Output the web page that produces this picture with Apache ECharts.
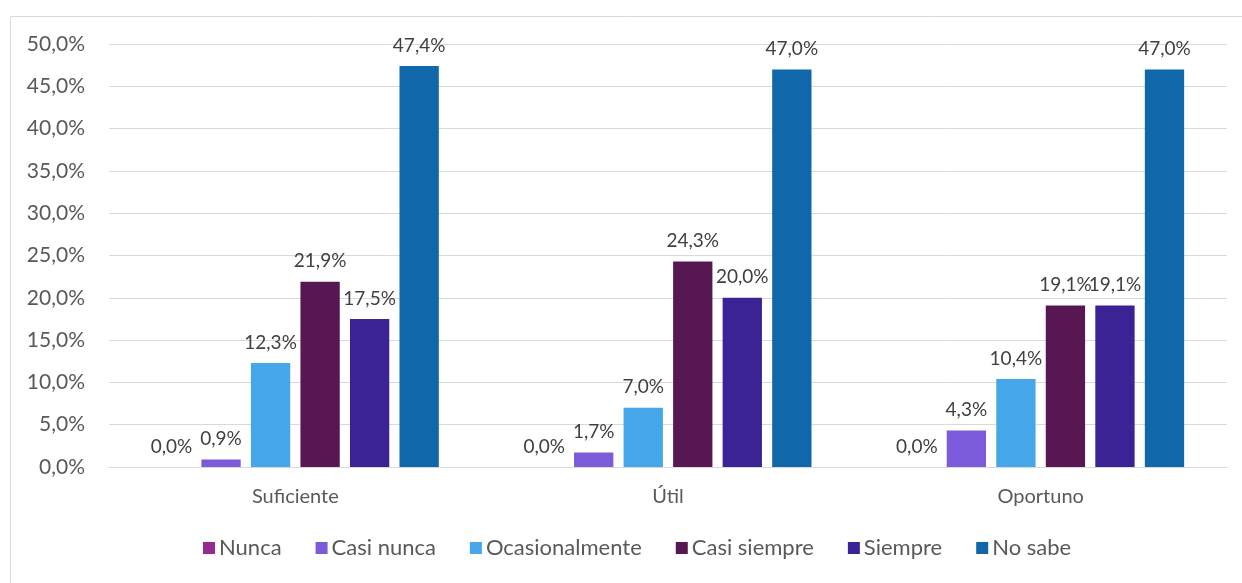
<!DOCTYPE html>
<html><head><meta charset="utf-8">
<script src="https://cdn.jsdelivr.net/npm/echarts@6/dist/echarts.min.js"></script>
<style>html,body{margin:0;padding:0;background:#fff}#c{width:1242px;height:583px}</style>
</head><body><div id="c"></div>
<script>
const categories = ['Suficiente', 'Útil', 'Oportuno'];
const seriesNames = ['Nunca', 'Casi nunca', 'Ocasionalmente', 'Casi siempre', 'Siempre', 'No sabe'];
const nunca = [0.0, 0.0, 0.0];
const casiNunca = [0.9, 1.7, 4.3];
const ocasionalmente = [12.3, 7.0, 10.4];
const casiSiempre = [21.9, 24.3, 19.1];
const siempre = [17.5, 20.0, 19.1];
const noSabe = [47.4, 47.0, 47.0];
const seriesData = [nunca, casiNunca, ocasionalmente, casiSiempre, siempre, noSabe];
const colors = ['#962890', '#7B5BD9', '#45A6E9', '#571752', '#3B2396', '#1067A9'];

const fmt = v => v.toFixed(1).replace('.', ',') + '%';
const FONT = 'Lato, "Open Sans", sans-serif';

const chart = echarts.init(document.getElementById('c'), null, {renderer: 'canvas'});
chart.setOption({
  animation: false,
  color: colors,
  graphic: [{
    type: 'rect', left: 8, top: 14, shape: {width: 1240, height: 580},
    style: {fill: 'none', stroke: '#d9d9d9', lineWidth: 1}, silent: true
  }],
  grid: {left: 109, right: 15, top: 44, bottom: 116, containLabel: false},
  legend: {
    bottom: 19, left: 198, itemWidth: 12, itemHeight: 12, itemGap: 34,
    icon: 'rect',
    textStyle: {fontFamily: FONT, fontSize: 22, color: '#595959', padding: [0, 0, 0, -1]},
    data: seriesNames
  },
  xAxis: {
    type: 'category', data: categories,
    axisLine: {lineStyle: {color: '#d9d9d9', width: 1}},
    axisTick: {show: false},
    axisLabel: {fontFamily: FONT, fontSize: 20, color: '#595959', margin: 20}
  },
  yAxis: {
    type: 'value', min: 0, max: 50, interval: 5,
    axisLine: {show: false}, axisTick: {show: false},
    splitLine: {lineStyle: {color: '#d9d9d9', width: 1}},
    axisLabel: {fontFamily: FONT, fontSize: 21, color: '#595959', margin: 24, formatter: v => fmt(v)}
  },
  series: seriesNames.map((n, i) => ({
    name: n, type: 'bar', data: seriesData[i],
    barGap: '26%', barCategoryGap: '23%',
    label: {show: true, position: 'top', distance: 11, fontFamily: FONT, fontSize: 19, color: '#404040',
      formatter: p => fmt(p.value)}
  }))
});
</script></body></html>
